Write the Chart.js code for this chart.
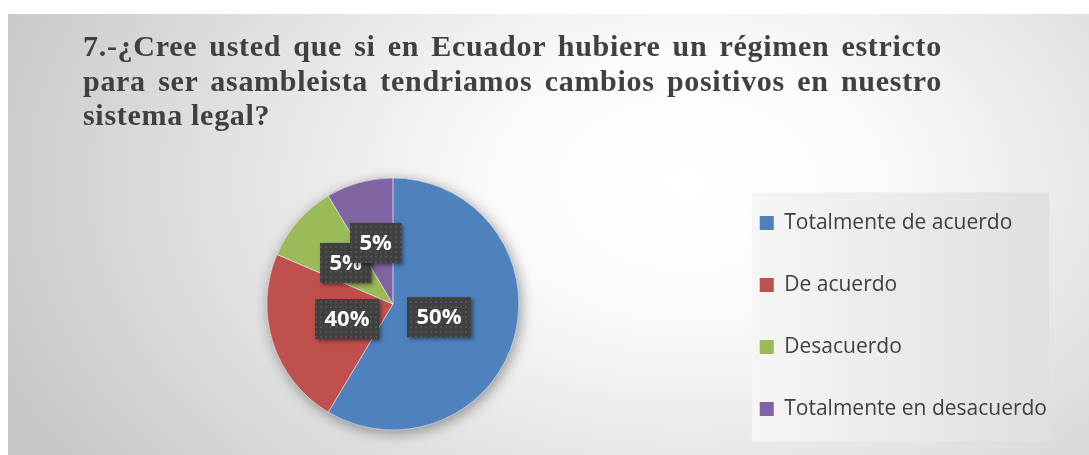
<!DOCTYPE html>
<html>
<head>
<meta charset="utf-8">
<script src="https://cdn.jsdelivr.net/npm/chart.js@4.4.1/dist/chart.umd.min.js"></script>
<style>
  html, body { margin: 0; padding: 0; background: #fff; }
  body { width: 1089px; height: 455px; overflow: hidden; position: relative; }
  #frame {
    position: absolute; left: 8px; top: 14px; width: 1081px; height: 441px; overflow: hidden;
    background: radial-gradient(ellipse 760px 520px at 680px 170px, #ffffff 0%, #fbfbfb 25%, #c6c6c6 100%);
  }
  #chart { position: absolute; left: 0; top: 0; }
  #title {
    position: absolute; left: 75px; top: 15px; width: 859px;
    font: bold 30px "Liberation Serif", "Times New Roman", serif;
    letter-spacing: 0.7px; line-height: 34.5px; color: #404040;
  }
  #title .j { text-align: justify; text-align-last: justify; }
</style>
</head>
<body>
<div id="frame">
  <canvas id="chart" width="1081" height="460"></canvas>
  <div id="title">
    <div class="j">7.-¿Cree usted que si en Ecuador hubiere un régimen estricto</div>
    <div class="j">para ser asambleista tendriamos cambios positivos en nuestro</div>
    <div>sistema legal?</div>
  </div>
</div>
<script>
// answers
var categories = ['Totalmente de acuerdo', 'De acuerdo', 'Desacuerdo', 'Totalmente en desacuerdo'];
var responses = [41, 16, 7, 6];
// the percentages printed on the slices in the original
var labelTexts = ['50%', '40%', '5%', '5%'];

var sliceColors = ['#4f81bd', '#c0504d', '#9bbb59', '#8064a2'];
var labelReach = [0.38, 0.38, 0.5, 0.5];

// soft shadow under the whole pie
var pieShadow = {
  id: 'pieShadow',
  beforeDatasetsDraw: function(chart) {
    var arc = chart.getDatasetMeta(0).data[0];
    var ctx = chart.ctx;
    ctx.save();
    ctx.shadowColor = 'rgba(0,0,0,0.4)';
    ctx.shadowBlur = 14;
    ctx.shadowOffsetX = 2;
    ctx.shadowOffsetY = 3;
    ctx.beginPath();
    ctx.arc(arc.x, arc.y, arc.outerRadius, 0, Math.PI * 2);
    ctx.fillStyle = sliceColors[0];
    ctx.fill();
    ctx.restore();
  }
};

// lighter panel behind the legend
var legendPanel = {
  id: 'legendPanel',
  beforeDraw: function(chart) {
    var lg = chart.legend, ctx = chart.ctx;
    var hb = lg.legendHitBoxes;
    var last = hb[hb.length - 1];
    var x0 = hb[0].left - 8;
    var x1 = lg.right - 8;
    var y0 = hb[0].top - 20;
    var y1 = last.top + last.height + 22;
    var g = ctx.createLinearGradient(x0, 0, x1, 0);
    g.addColorStop(0, '#f6f6f6');
    g.addColorStop(1, '#dfdfdf');
    ctx.save();
    ctx.fillStyle = g;
    ctx.fillRect(x0, y0, x1 - x0, y1 - y0);
    ctx.restore();
  }
};

// dark boxes with the slice percentages
var sliceLabels = {
  id: 'sliceLabels',
  afterDatasetsDraw: function(chart) {
    var ctx = chart.ctx;
    var dots = document.createElement('canvas');
    dots.width = 5; dots.height = 5;
    var dctx = dots.getContext('2d');
    dctx.fillStyle = 'rgba(255,255,255,0.09)';
    dctx.fillRect(2, 2, 2, 2);
    var pattern = ctx.createPattern(dots, 'repeat');

    chart.getDatasetMeta(0).data.forEach(function(arc, i) {
      var mid = (arc.startAngle + arc.endAngle) / 2;
      var r = arc.outerRadius * labelReach[i];
      var cx = arc.x + Math.cos(mid) * r;
      var cy = arc.y + Math.sin(mid) * r;
      ctx.save();
      ctx.font = 'bold 22px "Open Sans"';
      var w = ctx.measureText(labelTexts[i]).width + 19;
      var h = 40;
      var x = Math.round(cx - w / 2), y = Math.round(cy - h / 2);
      ctx.shadowColor = 'rgba(0,0,0,0.45)';
      ctx.shadowBlur = 4;
      ctx.shadowOffsetX = 2;
      ctx.shadowOffsetY = 2;
      ctx.fillStyle = '#404040';
      ctx.fillRect(x, y, w, h);
      ctx.shadowColor = 'transparent';
      ctx.fillStyle = pattern;
      ctx.fillRect(x, y, w, h);
      ctx.fillStyle = '#ffffff';
      ctx.textAlign = 'center';
      ctx.textBaseline = 'middle';
      ctx.fillText(labelTexts[i], x + w / 2, y + h / 2 + 1);
      ctx.restore();
    });
  }
};

new Chart(document.getElementById('chart'), {
  type: 'pie',
  data: {
    labels: categories,
    datasets: [{
      data: responses,
      backgroundColor: sliceColors,
      borderColor: 'rgba(255,255,255,0.5)',
      borderWidth: 1,
      radius: 126
    }]
  },
  options: {
    responsive: false,
    animation: false,
    devicePixelRatio: 1,
    layout: { padding: { left: 59, right: 32, top: 130, bottom: 10 } },
    plugins: {
      tooltip: { enabled: false },
      legend: {
        position: 'right',
        align: 'center',
        title: { display: true, text: '', padding: 0, font: { size: 24, lineHeight: 1 } },
        labels: {
          boxWidth: 14,
          boxHeight: 14,
          padding: 41,
          color: '#404040',
          font: { family: '"Open Sans"', size: 21 },
          generateLabels: function(chart) {
            return Chart.overrides.pie.plugins.legend.labels.generateLabels(chart).map(function(item) {
              item.lineWidth = 0;
              return item;
            });
          }
        }
      }
    }
  },
  plugins: [pieShadow, legendPanel, sliceLabels]
});
</script>
</body>
</html>
